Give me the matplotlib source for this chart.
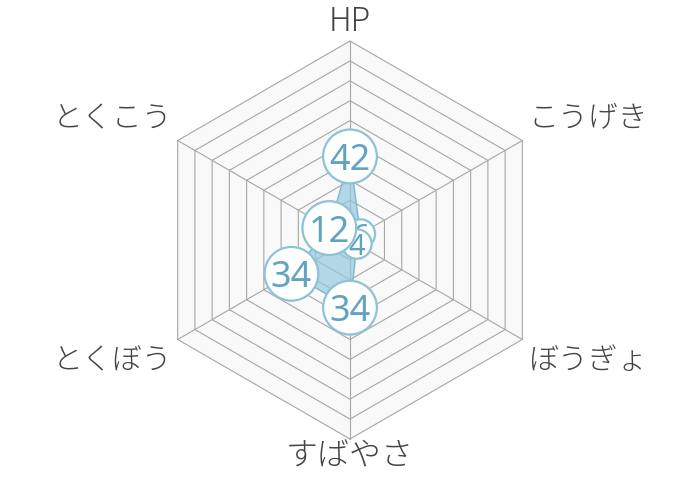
import numpy as np
import matplotlib
matplotlib.use("Agg")
import matplotlib.pyplot as plt
from matplotlib.patches import Polygon, Circle

# stats shown on the radar
labels = ["HP", "こうげき", "ぼうぎょ", "すばやさ", "とくぼう", "とくこう"]
values = [42, 6, 4, 34, 34, 12]
max_value = 100
n_rings = 10

plt.rcParams['font.family'] = ['Noto Sans CJK JP', 'DejaVu Sans']

px = 1.99  # pixels per value unit
fig = plt.figure(figsize=(7, 4.8), dpi=100)
ax = fig.add_axes([0, 0, 1, 1])
ax.set_xlim(-350 / px, 350 / px)
ax.set_ylim(-240 / px, 240 / px)
ax.set_aspect('equal')
ax.axis('off')

angles = np.pi / 2 - np.arange(len(labels)) * 2 * np.pi / len(labels)
ux, uy = np.cos(angles), np.sin(angles)

# web background + rings
outer = np.c_[max_value * ux, max_value * uy]
ax.add_patch(Polygon(outer, closed=True, fc='#f9f9f9', ec='none', zorder=0))
for k in range(1, n_rings + 1):
    r = max_value * k / n_rings
    ax.add_patch(Polygon(np.c_[r * ux, r * uy], closed=True, fill=False,
                         ec='#a6a6a6', lw=0.8, zorder=1))
for x, y in outer:
    ax.plot([0, x], [0, y], color='#a6a6a6', lw=0.8, zorder=1)

# data area
vals = np.array(values, dtype=float)
pts = np.c_[vals * ux, vals * uy]
ax.add_patch(Polygon(pts, closed=True, fc=(0.58, 0.79, 0.87, 0.7),
                     ec='#7fb6cc', lw=1.0, zorder=3))

# value bubbles, later ones on top
for i, v in enumerate(values):
    x, y = pts[i]
    two = len(str(v)) > 1
    rad = 13.5 if two else 7.4
    ax.add_patch(Circle((x, y), rad, fc='white', ec='#8cc3d7', lw=1.6,
                        zorder=10 + 2 * i))
    ax.text(x, y, str(v), ha='center', va='center_baseline',
            family=['Noto Sans', 'DejaVu Sans'],
            fontsize=26 if two else 21, fontweight='light',
            color='#62a3c2', zorder=11 + 2 * i)

# axis names
gap_x, gap_y = 3.0, 3.0
for i, name in enumerate(labels):
    x, y = outer[i]
    if abs(ux[i]) < 1e-6:
        ha = 'center'
        dx = 0
        dy = 1.0 if uy[i] > 0 else 0.0
        size = 23
    else:
        ha = 'left' if ux[i] > 0 else 'right'
        dx = gap_x if ux[i] > 0 else -gap_x
        dy = gap_y if uy[i] > 0 else -gap_y
        size = 21.5
    va = 'bottom' if uy[i] > 0 else 'top'
    ax.text(x + dx, y + dy, name, ha=ha, va=va, fontsize=size,
            fontweight='light', color='#444444')

fig.savefig("out.png", dpi=100)
